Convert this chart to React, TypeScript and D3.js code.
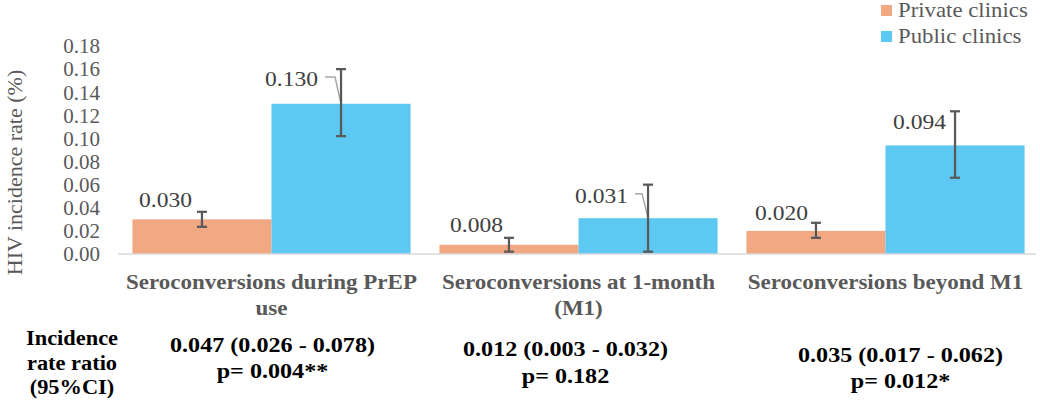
import React from 'react';
import * as d3 from 'd3';

// Chart data
const categories = [
  ['Seroconversions during PrEP', 'use'],
  ['Seroconversions at 1-month', '(M1)'],
  ['Seroconversions beyond M1'],
];
const seriesNames = ['Private clinics', 'Public clinics'];
const privateRates = [0.03, 0.008, 0.02];
const publicRates = [0.13, 0.031, 0.094];
const privateLow = [0.0235, 0.002, 0.014];
const privateHigh = [0.0365, 0.014, 0.027];
const publicLow = [0.102, 0.002, 0.066];
const publicHigh = [0.16, 0.06, 0.1235];
const yTicks = [0, 0.02, 0.04, 0.06, 0.08, 0.1, 0.12, 0.14, 0.16, 0.18];
const ratioTexts = ['0.047 (0.026 - 0.078)', '0.012 (0.003 - 0.032)', '0.035 (0.017 - 0.062)'];
const pTexts = ['p= 0.004**', 'p= 0.182', 'p= 0.012*'];
const rowTitle = ['Incidence', 'rate ratio', '(95%CI)'];

// Layout / style
const W = 1040, H = 403;
const COLORS = ['#F2A883', '#5DC8F2'];
const FONT = '"Liberation Serif", "Times New Roman", serif';
const GREY = '#595959';
// manual label nudges (right edge dx, baseline dy) relative to error-bar top
const labelNudge = [
  [[-10, -5], [-23, 17]],
  [[-6, -6], [-20, 18]],
  [[-8, -3], [-9, 18]],
];
const leaderOn = [[false, true], [false, true], [false, false]];
const statNudge = [[1, 352, 378], [-13, 356, 383], [15, 362, 388]];

const series = [
  { name: seriesNames[0], values: privateRates, low: privateLow, high: privateHigh },
  { name: seriesNames[1], values: publicRates, low: publicLow, high: publicHigh },
];

const SText = ({ x, y, sx = 1, anchor = 'start', size, weight = 'normal', fill, children }: any) => (
  <text
    transform={`translate(${x},${y}) scale(${sx},1)`}
    textAnchor={anchor}
    fontSize={size}
    fontWeight={weight}
    fill={fill}
    fontFamily={FONT}
  >
    {children}
  </text>
);

export default function App() {
  const x0 = d3.scaleBand<number>()
    .domain(categories.map((_, i) => i))
    .range([118, 1039])
    .paddingInner(0.094)
    .paddingOuter(0.047);
  const x1 = d3.scaleBand<string>().domain(seriesNames).range([0, x0.bandwidth()]);
  const y = d3.scaleLinear().domain([0, 0.18]).range([254, 46]);
  const fmt = d3.format('.3f');

  return (
    <svg width={W} height={H} style={{ position: 'absolute', left: 0, top: 0, background: '#fff' }}>
      {/* y tick labels */}
      {yTicks.map(t => (
        <text key={t} x={100} y={y(t)} dy="0.35em" textAnchor="end" fontSize={21} fill={GREY} fontFamily={FONT}>
          {d3.format('.2f')(t)}
        </text>
      ))}
      <text transform={`translate(22,172.5) rotate(-90)`} textAnchor="middle" fontSize={22} fill={GREY} fontFamily={FONT}>
        HIV incidence rate (%)
      </text>

      {/* bars */}
      {categories.map((_, i) => (
        <g key={i} transform={`translate(${x0(i)},0)`}>
          {series.map((s, j) => (
            <rect key={j} x={x1(s.name)} y={y(s.values[i])} width={x1.bandwidth()} height={y(0) - y(s.values[i])} fill={COLORS[j]} />
          ))}
        </g>
      ))}

      <line x1={118} x2={1036} y1={y(0)} y2={y(0)} stroke="#D9D9D9" strokeWidth={1.5} />

      {/* leaders, error bars, labels */}
      {categories.map((_, i) => series.map((s, j) => {
        const cx = x0(i)! + x1(s.name)! + x1.bandwidth() / 2;
        const yh = y(s.high[i]), yl = y(s.low[i]);
        const [dx, dy] = labelNudge[i][j];
        const lx = cx + dx, ly = yh + dy;
        return (
          <g key={`${i}-${j}`}>
            {leaderOn[i][j] && (
              <polyline
                points={`${lx + 7},${ly - 9} ${cx - 6},${ly - 9} ${cx},${y(s.values[i])}`}
                fill="none" stroke="#A6A6A6" strokeWidth={1.5}
              />
            )}
            <line x1={cx} x2={cx} y1={yh} y2={yl} stroke={GREY} strokeWidth={2.25} />
            <line x1={cx - 5} x2={cx + 5} y1={yh} y2={yh} stroke={GREY} strokeWidth={2.25} />
            <line x1={cx - 5} x2={cx + 5} y1={yl} y2={yl} stroke={GREY} strokeWidth={2.25} />
            <SText x={lx} y={ly} sx={1.07} anchor="end" size={22} fill="#404040">{fmt(s.values[i])}</SText>
          </g>
        );
      }))}

      {/* category labels */}
      {categories.map((lines, i) => lines.map((ln, k) => (
        <SText key={`${i}-${k}`} x={x0(i)! + x0.bandwidth() / 2} y={289 + k * 26} sx={1.15} anchor="middle" size={20} weight="bold" fill={GREY}>
          {ln}
        </SText>
      )))}

      {/* incidence rate ratio row */}
      {rowTitle.map((ln, k) => (
        <SText key={ln} x={72} y={345 + k * 24.5} sx={1.12} anchor="middle" size={20} weight="bold" fill="#000">{ln}</SText>
      ))}
      {ratioTexts.map((t, i) => {
        const cx = x0(i)! + x0.bandwidth() / 2 + statNudge[i][0];
        return (
          <g key={t}>
            <SText x={cx} y={statNudge[i][1]} sx={1.15} anchor="middle" size={21} weight="bold" fill="#000">{t}</SText>
            <SText x={cx} y={statNudge[i][2]} sx={1.15} anchor="middle" size={21} weight="bold" fill="#000">{pTexts[i]}</SText>
          </g>
        );
      })}

      {/* legend */}
      {seriesNames.map((n, j) => (
        <g key={n} transform={`translate(881,${5 + j * 26})`}>
          <rect width={11} height={11} fill={COLORS[j]} />
          <SText x={17} y={12} sx={1.14} size={20} fill={GREY}>{n}</SText>
        </g>
      ))}
    </svg>
  );
}
